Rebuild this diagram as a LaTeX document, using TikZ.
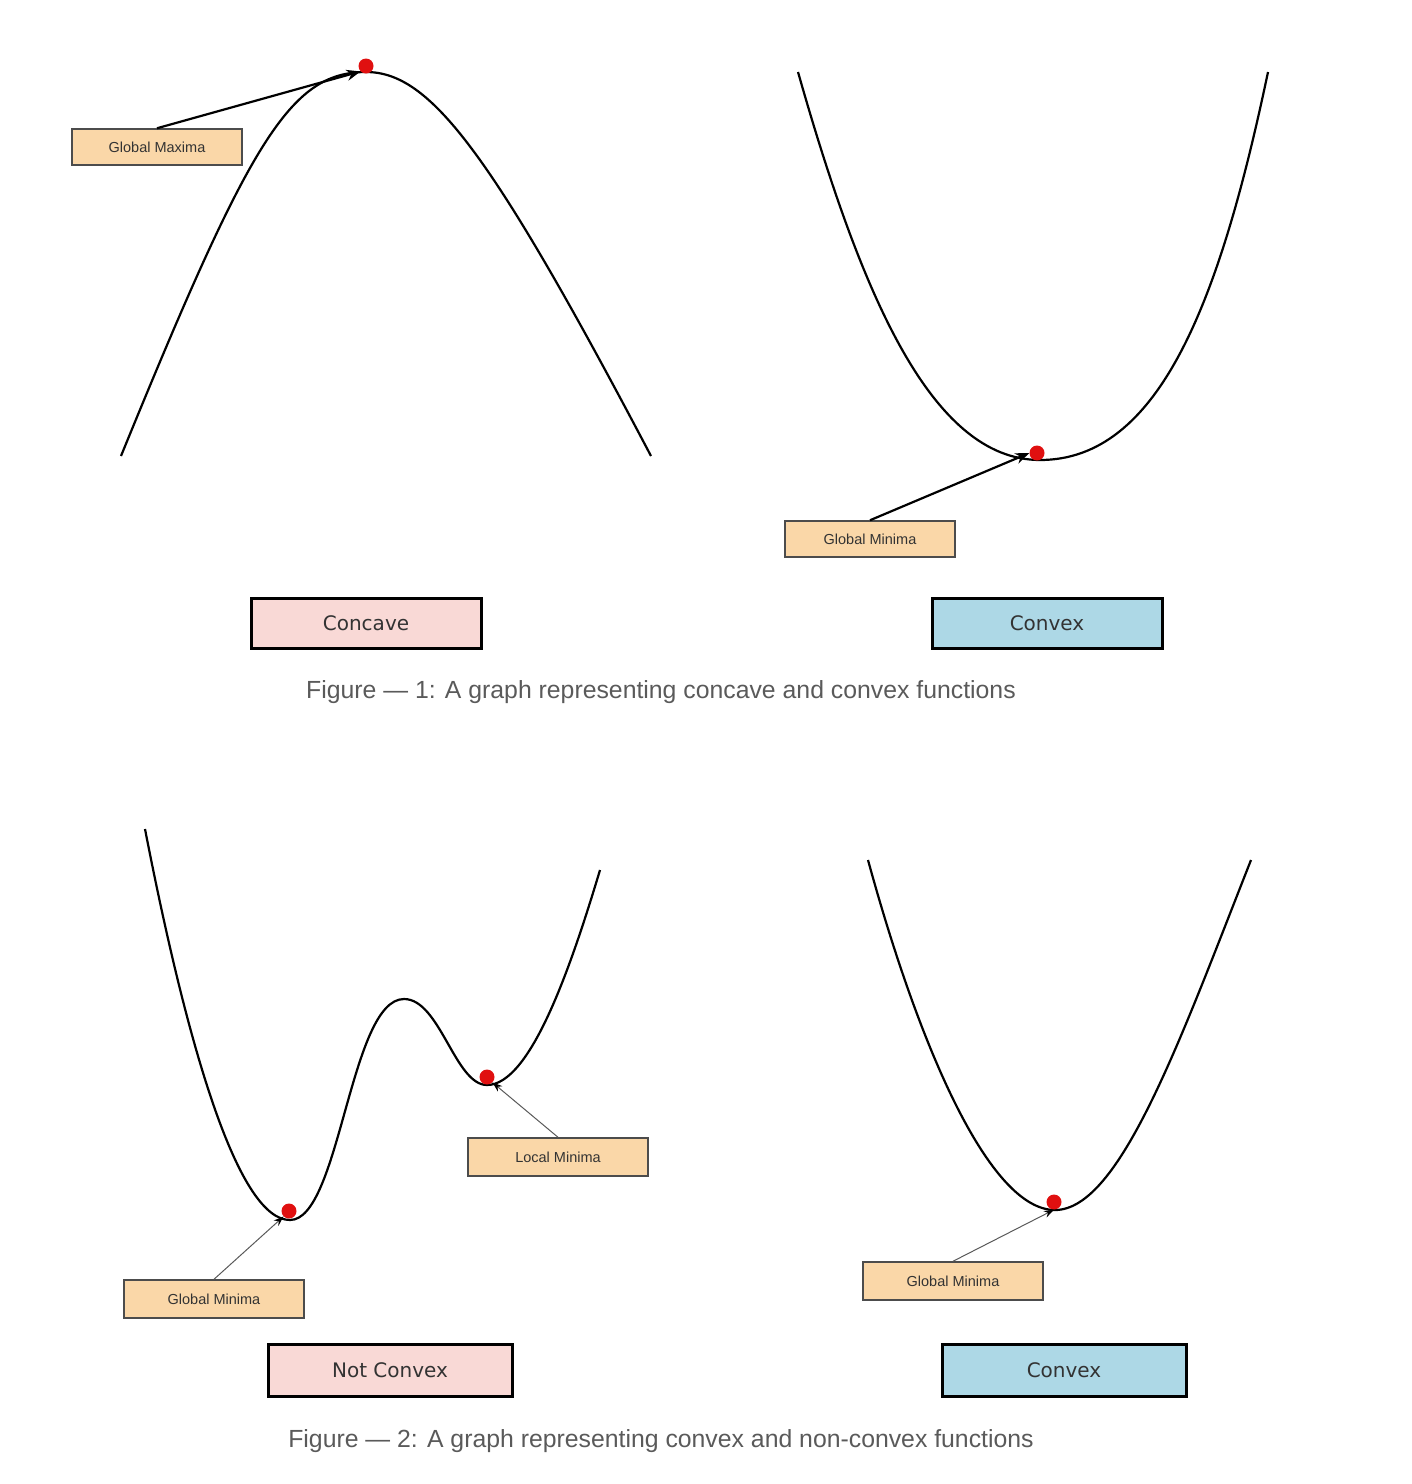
\documentclass[tikz,border=0pt]{standalone}
\usepackage{fontspec}
\setmainfont{Liberation Sans}
\newfontfamily\boxfont{DejaVu Sans}
\usepackage{xcolor}
\usepackage{tikz}
\usetikzlibrary{arrows.meta}

\definecolor{labelfill}{HTML}{FAD7A8}
\definecolor{pinkfill}{HTML}{F9D9D6}
\definecolor{bluefill}{HTML}{ADD8E6}
\definecolor{dotred}{HTML}{E01010}
\definecolor{captiongray}{HTML}{5A5A5A}

\begin{document}
\begin{tikzpicture}[x=1pt, y=-1pt,
    curve/.style={line width=2.2pt, black},
    dot/.style={circle, fill=dotred, inner sep=0pt, minimum size=15pt},
    tag/.style={draw=black!70, line width=1.5pt, fill=labelfill, minimum width=170pt, minimum height=36pt,
        inner sep=0pt, font=\fontsize{14.5}{16}\selectfont, text=black!80},
    kind/.style={draw=black, line width=3pt, minimum width=230pt, minimum height=50pt,
        inner sep=0pt, font=\boxfont\fontsize{20}{24}\selectfont, text=black!80},
    pointer/.style={line width=2.2pt, -{Stealth[length=14pt, width=11pt]}},
    thinpointer/.style={line width=1pt, black!65, -{Stealth[length=10pt, width=7pt, black]}},
    caption/.style={font=\fontsize{24.8}{30}\selectfont, text=captiongray}]
    \useasboundingbox (0,0) rectangle (1412,1484);

    % concave
    \draw[curve] (121,456) .. controls (250,140) and (290,72) .. (366,72)
        .. controls (430,72) and (490,150) .. (651,456);
    \node[dot] (maxdot) at (366,66) {};
    \node[tag] (gmax) at (157,147) {Global Maxima};
    \draw[pointer] (gmax.north) -- (maxdot.south west);

    % convex
    \draw[curve] (798,72) .. controls (860,290) and (930,460) .. (1040,460)
        .. controls (1160,460) and (1220,300) .. (1268,72);
    \node[dot] (mindot) at (1037,453) {};
    \node[tag] (gmin) at (870,539) {Global Minima};
    \draw[pointer] (gmin.north) -- (mindot.west);

    \node[kind, fill=pinkfill] (concave) at (366,623) {Concave};
    \node[kind, fill=bluefill] (convex) at (1047,623) {Convex};
    \node[caption] (cap1) at (661,692) {Figure — 1: A graph representing concave and convex functions};

    % not convex
    \draw[curve] (145,829) .. controls (190,1060) and (240,1220) .. (290,1220)
        .. controls (340,1220) and (350,999) .. (404,999)
        .. controls (440,999) and (455,1085) .. (487,1085)
        .. controls (530,1085) and (570,970) .. (600,870);
    \node[dot] (gdot) at (289,1211) {};
    \node[dot] (ldot) at (487,1077) {};
    \node[tag, minimum width=180pt, minimum height=38pt] (lmin) at (558,1157) {Local Minima};
    \node[tag, minimum width=180pt, minimum height=38pt] (gmin2) at (214,1299) {Global Minima};
    \draw[thinpointer] (lmin.north) -- (ldot.south east);
    \draw[thinpointer] (gmin2.north) -- (gdot.south west);

    % convex again
    \draw[curve] (868,860) .. controls (920,1050) and (990,1210) .. (1055,1210)
        .. controls (1120,1210) and (1180,1040) .. (1251,860);
    \node[dot] (cdot) at (1054,1202) {};
    \node[tag, minimum width=180pt, minimum height=38pt] (gmin3) at (953,1281) {Global Minima};
    \draw[thinpointer] (gmin3.north) -- (cdot.south);

    \node[kind, fill=pinkfill, minimum width=244pt, minimum height=52pt] (notconvex) at (390,1370) {Not Convex};
    \node[kind, fill=bluefill, minimum width=244pt, minimum height=52pt] (convex2) at (1064,1370) {Convex};
    \node[caption] (cap2) at (661,1441) {Figure — 2: A graph representing convex and non-convex functions};
\end{tikzpicture}
\end{document}
